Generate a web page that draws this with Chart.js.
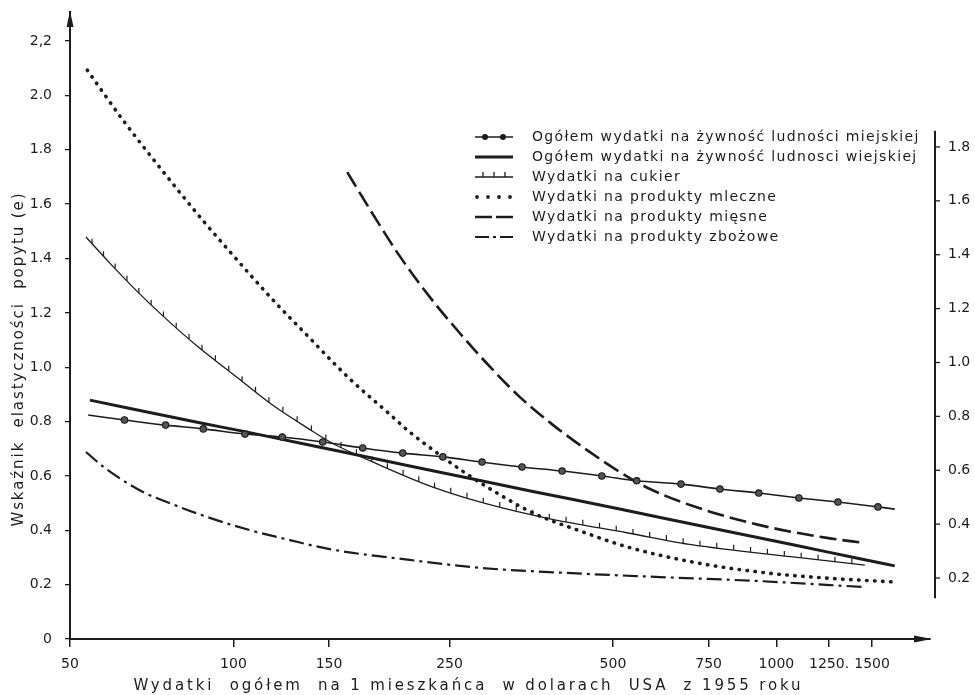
<!DOCTYPE html>
<html lang="pl">
<head>
<meta charset="utf-8">
<title>Wskaźnik elastyczności popytu</title>
<script src="https://cdn.jsdelivr.net/npm/chart.js@4.4.1/dist/chart.umd.min.js"></script>
<style>
  html, body { margin: 0; padding: 0; background: #fff; }
  #wrap { width: 975px; height: 695px; position: relative; }
</style>
</head>
<body>
<div id="wrap"><canvas id="chart"></canvas></div>
<script>
// Oś X: wydatki na 1 mieszkańca (USD 1955), skala logarytmiczna
const xTicks = [50, 100, 150, 250, 500, 750, 1000, 1250, 1500];
const xTickLabels = ['50', '100', '150', '250', '500', '750', '1000', '1250.', '1500'];
// Oś Y lewa i prawa
const yTicks = [0, 0.2, 0.4, 0.6, 0.8, 1.0, 1.2, 1.4, 1.6, 1.8, 2.0, 2.2];
const yTickLabels = ['0', '0.2', '0.4', '0.6', '0.8', '1.0', '1.2', '1.4', '1.6', '1.8', '2.0', '2,2'];
const yRightTicks = [0.2, 0.4, 0.6, 0.8, 1.0, 1.2, 1.4, 1.6, 1.8];
const yRightLabels = ['0.2', '0.4', '0.6', '0.8', '1.0', '1.2', '1.4', '1.6', '1.8'];

const seriesNames = [
  'Ogółem wydatki na żywność ludności miejskiej',
  'Ogółem wydatki na żywność ludnosci wiejskiej',
  'Wydatki na cukier',
  'Wydatki na produkty mleczne',
  'Wydatki na produkty mięsne',
  'Wydatki na produkty zbożowe'
];

// ludność miejska
const urbanX = [54, 63, 75, 88, 105, 123, 146, 173, 205, 243, 287, 340, 403, 477, 553, 667, 787, 928, 1100, 1298, 1538, 1652];
const urbanY = [0.824, 0.806, 0.787, 0.773, 0.754, 0.743, 0.725, 0.703, 0.684, 0.670, 0.651, 0.633, 0.618, 0.600, 0.582, 0.570, 0.552, 0.537, 0.519, 0.504, 0.486, 0.478];
// ludność wiejska
const ruralX = [54.4, 88, 105, 133, 171, 269, 356, 533, 702, 1073, 1425, 1652];
const ruralY = [0.879, 0.793, 0.763, 0.720, 0.675, 0.593, 0.543, 0.472, 0.422, 0.347, 0.295, 0.269];
// cukier
const sugarX = [53.5, 59.2, 66.4, 74.2, 85.7, 103, 118, 137, 150.6, 186, 233, 293, 383, 533, 702, 1073, 1455];
const sugarY = [1.479, 1.383, 1.280, 1.188, 1.078, 0.953, 0.861, 0.776, 0.725, 0.640, 0.559, 0.497, 0.442, 0.390, 0.346, 0.302, 0.272];
// produkty mleczne
const dairyX = [53.8, 62.6, 73.3, 88.6, 99, 108.7, 119.7, 137, 155, 166, 193, 211, 240, 269, 310, 356, 440, 533, 702, 932, 1239, 1640];
const dairyY = [2.093, 1.909, 1.733, 1.531, 1.420, 1.328, 1.236, 1.115, 1.004, 0.946, 0.831, 0.762, 0.677, 0.607, 0.530, 0.464, 0.394, 0.338, 0.283, 0.246, 0.224, 0.210];
// produkty mięsne
const meatX = [162, 181, 203, 230, 261, 297, 337, 388, 448, 515, 585, 702, 932, 1239, 1455];
const meatY = [1.718, 1.560, 1.405, 1.258, 1.126, 1.001, 0.890, 0.787, 0.695, 0.614, 0.552, 0.489, 0.419, 0.372, 0.353];
// produkty zbożowe
const cerealX = [53.5, 58, 63, 68.7, 75.4, 89.4, 107, 127, 151, 211, 288, 411, 610, 932, 1455];
const cerealY = [0.688, 0.629, 0.580, 0.537, 0.504, 0.449, 0.401, 0.364, 0.330, 0.291, 0.261, 0.243, 0.228, 0.213, 0.191];

const INK = '#1c1c1c';
const FONT = 'DejaVu Sans';

const pts = (xs, ys) => xs.map((x, i) => ({ x: x, y: ys[i] }));

Chart.defaults.font.family = FONT;
Chart.defaults.font.size = 14;
Chart.defaults.color = INK;

// tło
const whiteBg = {
  id: 'whiteBg',
  beforeDraw(chart) {
    const ctx = chart.ctx;
    ctx.save();
    ctx.fillStyle = '#fff';
    ctx.fillRect(0, 0, chart.width, chart.height);
    ctx.restore();
  }
};

// kreski poprzeczne na linii cukru
const sugarTicks = {
  id: 'sugarTicks',
  afterDatasetsDraw(chart) {
    const list = chart.getDatasetMeta(2).data;
    const ctx = chart.ctx;
    ctx.save();
    ctx.strokeStyle = INK;
    ctx.lineWidth = 1.2;
    let carry = 9;
    for (let i = 1; i < list.length; i++) {
      const a = list[i - 1], b = list[i];
      const seg = Math.hypot(b.x - a.x, b.y - a.y);
      let d = carry;
      while (d < seg) {
        const t = d / seg;
        const x = a.x + (b.x - a.x) * t, y = a.y + (b.y - a.y) * t;
        ctx.beginPath();
        ctx.moveTo(x, y);
        ctx.lineTo(x, y - 5);
        ctx.stroke();
        d += 17;
      }
      carry = d - seg;
    }
    ctx.restore();
  }
};

function fitText(ctx, text, cx, cy, width) {
  ctx.letterSpacing = '0px';
  const w = ctx.measureText(text).width;
  const sp = Math.max(0, (width - w) / text.length);
  ctx.letterSpacing = sp.toFixed(2) + 'px';
  ctx.fillText(text, cx + sp / 2, cy);
  ctx.letterSpacing = '0px';
}

// strzałki, prawa oś, tytuły osi i legenda
const decorations = {
  id: 'decorations',
  afterDraw(chart) {
    const ctx = chart.ctx;
    const a = chart.chartArea;
    ctx.save();
    ctx.fillStyle = INK;
    ctx.strokeStyle = INK;

    // strzałka osi Y
    ctx.beginPath();
    ctx.moveTo(a.left, a.top - 1);
    ctx.lineTo(a.left - 3.5, a.top + 15);
    ctx.lineTo(a.left + 3.5, a.top + 15);
    ctx.closePath();
    ctx.fill();
    // strzałka osi X
    ctx.beginPath();
    ctx.moveTo(a.right + 2, a.bottom);
    ctx.lineTo(a.right - 16, a.bottom - 3.5);
    ctx.lineTo(a.right - 16, a.bottom + 3.5);
    ctx.closePath();
    ctx.fill();

    // prawa oś
    const r = chart.scales.yR;
    const rx = r.left + 5;
    ctx.lineWidth = 2;
    ctx.beginPath();
    ctx.moveTo(rx, r.getPixelForValue(1.86));
    ctx.lineTo(rx, r.getPixelForValue(0.125));
    ctx.stroke();
    ctx.lineWidth = 1.3;
    yRightTicks.forEach(v => {
      const y = r.getPixelForValue(v);
      ctx.beginPath();
      ctx.moveTo(rx, y);
      ctx.lineTo(rx + 5, y);
      ctx.stroke();
    });

    // tytuły osi
    ctx.font = '15px "' + FONT + '"';
    ctx.textAlign = 'center';
    ctx.textBaseline = 'middle';
    fitText(ctx, 'Wydatki  ogółem  na 1 mieszkańca  w dolarach  USA  z 1955 roku', 467, 686, 670);
    ctx.save();
    ctx.translate(19, 360);
    ctx.rotate(-Math.PI / 2);
    fitText(ctx, 'Wskaźnik  elastyczności  popytu (e)', 0, 0, 335);
    ctx.restore();

    // legenda
    const lx = 475, lw = 38, ly = 137, step = 20;
    ctx.font = '14px "' + FONT + '"';
    ctx.textAlign = 'left';
    seriesNames.forEach((name, i) => {
      const y = ly + i * step;
      ctx.save();
      ctx.strokeStyle = INK;
      ctx.fillStyle = INK;
      ctx.beginPath();
      if (i === 0) {
        ctx.lineWidth = 1.6;
        ctx.moveTo(lx, y); ctx.lineTo(lx + lw, y); ctx.stroke();
        [10, 28].forEach(o => { ctx.beginPath(); ctx.arc(lx + o, y, 3, 0, Math.PI * 2); ctx.fill(); });
      } else if (i === 1) {
        ctx.lineWidth = 3;
        ctx.moveTo(lx, y); ctx.lineTo(lx + lw, y); ctx.stroke();
      } else if (i === 2) {
        ctx.lineWidth = 1.3;
        ctx.moveTo(lx, y); ctx.lineTo(lx + lw, y);
        [8, 19, 30].forEach(o => { ctx.moveTo(lx + o, y); ctx.lineTo(lx + o, y - 5); });
        ctx.stroke();
      } else if (i === 3) {
        [2, 13, 24, 35].forEach(o => { ctx.beginPath(); ctx.arc(lx + o, y, 1.9, 0, Math.PI * 2); ctx.fill(); });
      } else if (i === 4) {
        ctx.lineWidth = 2.6;
        ctx.setLineDash([17, 4]);
        ctx.moveTo(lx, y); ctx.lineTo(lx + lw, y); ctx.stroke();
      } else {
        ctx.lineWidth = 2.2;
        ctx.setLineDash([14, 4, 3, 4]);
        ctx.moveTo(lx, y); ctx.lineTo(lx + lw, y); ctx.stroke();
      }
      ctx.restore();
      ctx.letterSpacing = '1.35px';
      ctx.fillText(name, 532, y);
      ctx.letterSpacing = '0px';
    });
    ctx.restore();
  }
};

const baseLine = { fill: false, borderColor: INK, pointRadius: 0, cubicInterpolationMode: 'monotone' };

new Chart(document.getElementById('chart'), {
  type: 'line',
  data: {
    datasets: [
      Object.assign({}, baseLine, {
        label: seriesNames[0], data: pts(urbanX, urbanY), borderWidth: 1.6,
        pointRadius: urbanX.map((_, i) => (i === 0 || i === urbanX.length - 1) ? 0 : 3.2),
        pointBackgroundColor: '#555', pointBorderColor: INK, pointBorderWidth: 1.2
      }),
      Object.assign({}, baseLine, { label: seriesNames[1], data: pts(ruralX, ruralY), borderWidth: 3 }),
      Object.assign({}, baseLine, { label: seriesNames[2], data: pts(sugarX, sugarY), borderWidth: 1.3 }),
      Object.assign({}, baseLine, {
        label: seriesNames[3], data: pts(dairyX, dairyY), borderWidth: 3.6,
        borderDash: [0.5, 7.5], borderCapStyle: 'round'
      }),
      Object.assign({}, baseLine, { label: seriesNames[4], data: pts(meatX, meatY), borderWidth: 2.6, borderDash: [17, 6] }),
      Object.assign({}, baseLine, { label: seriesNames[5], data: pts(cerealX, cerealY), borderWidth: 2.2, borderDash: [15, 5, 3, 5] })
    ]
  },
  options: {
    responsive: true,
    maintainAspectRatio: false,
    animation: false,
    layout: { padding: { top: 12, left: 0, right: 0, bottom: 0 } },
    plugins: { legend: { display: false }, tooltip: { enabled: false } },
    scales: {
      x: {
        type: 'logarithmic',
        min: 50,
        max: 1918,
        afterBuildTicks: s => { s.ticks = xTicks.map(v => ({ value: v })); },
        afterFit: s => { s.height = 56; s.paddingLeft = 0; s.paddingRight = 0; },
        ticks: {
          autoSkip: false, maxRotation: 0, padding: 9,
          callback: v => xTickLabels[xTicks.indexOf(v)]
        },
        grid: { drawOnChartArea: false, drawTicks: true, tickLength: 8, color: INK, lineWidth: 1.5 },
        border: { display: true, color: INK, width: 2 }
      },
      y: {
        type: 'linear',
        position: 'left',
        min: 0,
        max: 2.307,
        afterBuildTicks: s => { s.ticks = yTicks.map(v => ({ value: v })); },
        afterFit: s => { s.width = 70; s.paddingTop = 0; s.paddingBottom = 0; },
        ticks: { autoSkip: false, padding: 13, callback: (v, i) => yTickLabels[i] },
        grid: { drawOnChartArea: false, drawTicks: true, tickLength: 5, color: INK, lineWidth: 1.3 },
        border: { display: true, color: INK, width: 2 }
      },
      yR: {
        type: 'linear',
        position: 'right',
        min: -0.0264,
        max: 2.301,
        afterBuildTicks: s => { s.ticks = yRightTicks.map(v => ({ value: v })); },
        afterFit: s => { s.width = 45; s.paddingTop = 0; s.paddingBottom = 0; },
        ticks: { autoSkip: false, padding: 18, callback: (v, i) => yRightLabels[i] },
        grid: { display: false, drawOnChartArea: false, drawTicks: false },
        border: { display: false }
      }
    }
  },
  plugins: [whiteBg, sugarTicks, decorations]
});
</script>
</body>
</html>
